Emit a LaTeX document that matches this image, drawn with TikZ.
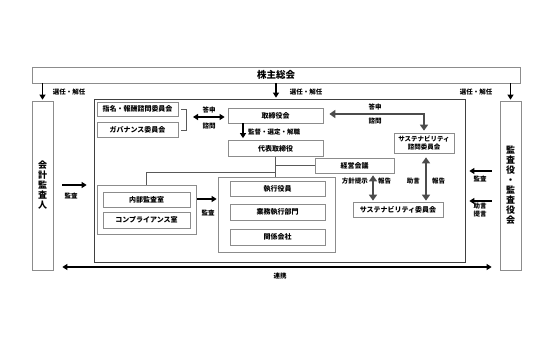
\documentclass[tikz,border=0pt]{standalone}
\usepackage{fontspec}
\setmainfont{Noto Sans CJK JP}
\usepackage{tikz}
\usetikzlibrary{shapes,arrows,arrows.meta,positioning,calc}

\begin{document}
\begin{tikzpicture}[
    x=1pt, y=-1pt,
    block/.style={rectangle, draw=black!45, line width=0.7pt, minimum width=95pt, minimum height=15pt, inner sep=0pt, align=center, font=\fontsize{7}{8}\selectfont\bfseries},
    panel/.style={rectangle, draw=black!45, line width=0.7pt, inner sep=0pt},
    tall/.style={block, minimum width=21pt, minimum height=169pt, font=\fontsize{9}{10}\selectfont\bfseries},
    note/.style={inner sep=0pt, align=center, font=\fontsize{6.5}{8}\selectfont\bfseries},
    link/.style={draw=black!65, line width=0.7pt},
    arrow/.style={->, >={Triangle[length=5pt,width=6pt]}, line width=1.6pt},
    biarrow/.style={<->, >={Triangle[length=5pt,width=6pt]}, line width=1.6pt},
    grarrow/.style={<->, >={Triangle[length=6pt,width=8pt]}, line width=2.6pt, draw=black!70}
]
\useasboundingbox (0,0) rectangle (560,344);

\node[block, minimum width=488pt, minimum height=16pt, font=\fontsize{9.5}{10}\selectfont\bfseries] (gm) at (276,75) {株主総会};
\node[tall] (cpa) at (42.5,185.5) {会\\計\\監\\査\\人};
\node[tall] (kansa) at (510.5,185.5) {監\\査\\役\\・\\監\\査\\役\\会};
\node[panel, draw=black!75, minimum width=371pt, minimum height=163pt] (corp) at (279.5,180.5) {};

\node[block, minimum width=81pt, minimum height=14pt] (nom) at (137.5,109) {指名・報酬諮問委員会};
\node[block, minimum width=81pt] (gov) at (137.5,130) {ガバナンス委員会};
\node[block] (board) at (275.5,115.5) {取締役会};
\node[block, minimum height=16pt] (rep) at (275.5,148.5) {代表取締役};
\node[block, minimum width=79pt] (mgmt) at (354.5,165.5) {経営会議};
\node[block, minimum width=60pt, minimum height=20pt, font=\fontsize{6.5}{8}\selectfont\bfseries] (sadv) at (424,143) {サステナビリティ\\諮問委員会};
\node[block, minimum width=90pt] (scom) at (398,209.5) {サステナビリティ委員会};

\node[panel, minimum width=99pt, minimum height=49pt] (lgrp) at (146.5,209.5) {};
\node[block, minimum width=87pt] (ia) at (146.5,199.5) {内部監査室};
\node[block, minimum width=87pt, minimum height=16pt] (comp) at (146.5,220) {コンプライアンス室};

\node[panel, minimum width=117pt, minimum height=75pt] (egrp) at (276.5,214.5) {};
\node[block] (exe) at (277.5,188.5) {執行役員};
\node[block, minimum height=16pt] (dept) at (277.5,212) {業務執行部門};
\node[block, minimum height=16pt] (affil) at (277.5,237) {関係会社};

\draw[arrow, shorten >=1pt] (gm.south -| cpa.north) -- (cpa.north);
\draw[arrow, shorten >=1pt] (gm.south) -- (gm.south |- corp.north);
\draw[arrow, shorten >=1pt] (gm.south -| kansa.north) -- (kansa.north);
\node[note] (sel1) at (69,92) {選任・解任};
\node[note] (sel2) at (306,92) {選任・解任};
\node[note] (sel3) at (476,92) {選任・解任};

\draw[link] ([xshift=3pt]nom.east) -- ++(5,0) |- ([xshift=3pt]gov.east);
\coordinate (brk) at (186,117);
\draw[biarrow, shorten <=7pt, shorten >=3pt] (brk) -- (board.west |- brk);
\node[note] (ans1) at (209,110) {答申};
\node[note] (req1) at (209,126) {諮問};

\draw[arrow, shorten >=2pt] ([xshift=-32.5pt]board.south) -- ([xshift=-32.5pt]rep.north);
\node[note, anchor=west] (supv) at (248,132) {監督・選定・解職};

\draw[grarrow, shorten <=6pt, shorten >=2pt] ([yshift=1.5pt]board.east) -| (sadv.north);
\node[note] (ans2) at (375,107) {答申};
\node[note] (req2) at (375,121) {諮問};

\draw[link] (rep.south) -- (rep.south |- egrp.north);
\draw[link] (rep.south |- mgmt.west) -- (mgmt.west);
\draw[link] (rep.south |- 0,172) -| (lgrp.north);

\draw[grarrow, shorten <=4pt, shorten >=1pt] ([xshift=2pt]sadv.south) -- ([xshift=2pt]sadv.south |- scom.north);
\draw[grarrow, shorten <=2pt, shorten >=1pt] ([xshift=18.5pt]mgmt.south) -- ([xshift=18.5pt]mgmt.south |- scom.north);
\node[note, anchor=east] (pol) at (368,181) {方針提示};
\node[note, anchor=west] (rep1) at (378,181) {報告};
\node[note, anchor=east] (adv1) at (420,181) {助言};
\node[note, anchor=west] (rep2) at (432,181) {報告};

\draw[arrow, shorten <=8pt, shorten >=4pt] (kansa.west |- 0,171) -- (corp.east |- 0,171);
\node[note] (aud1) at (480,179) {監査};
\draw[arrow, shorten <=8pt, shorten >=4pt] (kansa.west |- 0,201) -- (corp.east |- 0,201);
\node[note] (adv2) at (480,210) {助言\\提言};

\draw[arrow, shorten <=9pt, shorten >=7pt] (cpa.east |- 0,185) -- (corp.west |- 0,185);
\node[note] (aud2) at (71,196) {監査};

\draw[arrow, shorten <=1pt, shorten >=1pt] (lgrp.east |- 0,199) -- (egrp.west |- 0,199);
\node[note] (aud3) at (208,213) {監査};

\draw[biarrow, shorten <=9pt, shorten >=8pt] (cpa.east |- 0,267) -- (kansa.west |- 0,267);
\node[note] (coop) at (280,276) {連携};
\end{tikzpicture}
\end{document}
